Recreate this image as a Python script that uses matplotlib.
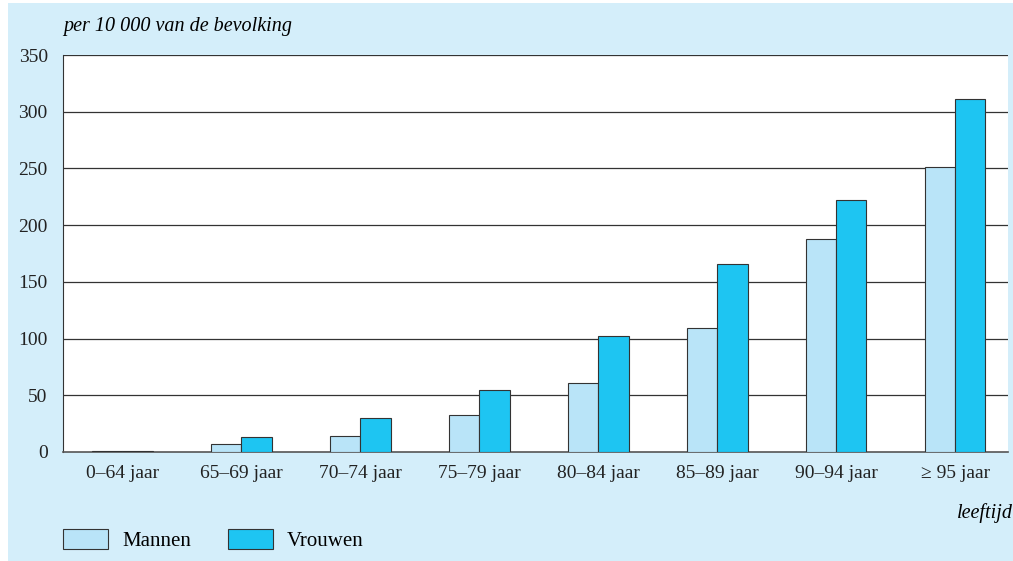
import numpy as np
import matplotlib.pyplot as plt
from matplotlib.patches import Rectangle, Patch

categories = ["0–64 jaar", "65–69 jaar", "70–74 jaar", "75–79 jaar",
              "80–84 jaar", "85–89 jaar", "90–94 jaar", "≥ 95 jaar"]
mannen = [1, 7, 14, 33, 61, 109, 188, 251]
vrouwen = [1, 13, 30, 55, 102, 166, 222, 311]
yticks = [0, 50, 100, 150, 200, 250, 300, 350]

C_M = "#b9e4f8"
C_V = "#1ec5f2"
BG = "#d4eefa"
EDGE = "#333333"

plt.rcParams["font.family"] = ["Liberation Serif", "DejaVu Serif"]
plt.rcParams["font.size"] = 14

W, H = 1013, 561
fig = plt.figure(figsize=(W / 100, H / 100), dpi=100, facecolor="white")
fig.patches.append(Rectangle((8 / W, 0), 1 - 8 / W, 1 - 3 / H, transform=fig.transFigure,
                             facecolor=BG, edgecolor="none", zorder=-10))

ax = fig.add_axes([63 / W, 1 - 452 / H, (1008 - 63) / W, (452 - 55) / H])
ax.set_facecolor("white")

x = np.arange(len(categories))
bw = 0.255
ax.bar(x - bw / 2, mannen, bw, color=C_M, edgecolor=EDGE, lw=0.8, zorder=3)
ax.bar(x + bw / 2, vrouwen, bw, color=C_V, edgecolor=EDGE, lw=0.8, zorder=3)

ax.set_xlim(-0.5, 7.445)
ax.set_ylim(0, 350)
ax.set_yticks(yticks)
ax.set_xticks(x, categories)
ax.tick_params(length=0, pad=9, colors="#222222", labelsize=14)
ax.tick_params(axis="y", pad=11)
for y in yticks[1:]:
    ax.axhline(y, color="#333333", lw=0.9, zorder=1)
for s in ["top", "right"]:
    ax.spines[s].set_visible(False)
ax.spines["left"].set_color("#333333")
ax.spines["bottom"].set_color("#555555")
ax.spines["bottom"].set_linewidth(1.2)

fig.text(63 / W, 1 - 27 / H, "per 10 000 van de bevolking", style="italic",
         ha="left", va="center", fontsize=14.5)
fig.text(1013 / W, 1 - 513 / H, "leeftijd", style="italic", ha="right",
         va="center", fontsize=14.5)

handles = [Patch(facecolor=C_M, edgecolor=EDGE, lw=0.8, label="Mannen"),
           Patch(facecolor=C_V, edgecolor=EDGE, lw=0.8, label="Vrouwen")]
fig.legend(handles=handles, loc="center left", bbox_to_anchor=(63 / W, 1 - 540 / H),
           ncol=2, frameon=False, handlelength=2.16, handleheight=1.1,
           handletextpad=0.67, columnspacing=1.78, fontsize=15,
           borderpad=0, borderaxespad=0)

fig.savefig("out.png", dpi=100, facecolor=fig.get_facecolor())
